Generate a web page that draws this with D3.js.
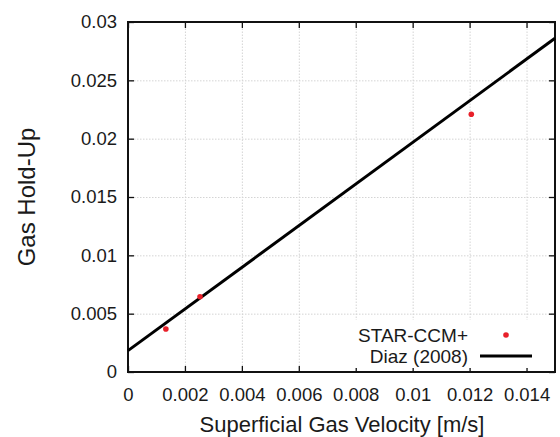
<!DOCTYPE html>
<html lang="en">
<head>
<meta charset="UTF-8">
<title>Gas Hold-Up</title>
<script src="https://cdn.jsdelivr.net/npm/d3@7"></script>
<style>
    body { margin: 0; background: #fff; }
    svg text { font-family: "Liberation Sans", Arial, sans-serif; fill: #1a1a1a; }
    .tick text { font-size: 18.5px; }
    .grid line { stroke: #d4d4d4; stroke-dasharray: 1.5 1.5; }
    .grid path { display: none; }
</style>
</head>
<body>
<svg width="560" height="437"></svg>
<script>
// simulation points (STAR-CCM+)
var simX = [0.00133, 0.00253, 0.01206];
var simY = [0.00369, 0.00645, 0.02209];
// Diaz (2008) correlation, end points of the line
var diazX = [0, 0.015];
var diazY = [0.00183, 0.0286];
var xTicks = [0, 0.002, 0.004, 0.006, 0.008, 0.01, 0.012, 0.014];
var yTicks = [0, 0.005, 0.01, 0.015, 0.02, 0.025, 0.03];
var legendNames = ["STAR-CCM+", "Diaz (2008)"];

var svg = d3.select("svg");
var mL = 128, mT = 22, mR = 555, mB = 372;

var x = d3.scaleLinear().domain([0, 0.015]).range([mL, mR]);
var y = d3.scaleLinear().domain([0, 0.03]).range([mB, mT]);

// grid
svg.append("g").attr("class", "grid")
    .attr("transform", "translate(0," + mB + ")")
    .call(d3.axisBottom(x).tickValues(xTicks).tickSize(-(mB - mT)).tickFormat(""));
svg.append("g").attr("class", "grid")
    .attr("transform", "translate(" + mL + ",0)")
    .call(d3.axisLeft(y).tickValues(yTicks).tickSize(-(mR - mL)).tickFormat(""));

// axes with inward ticks
var fmt = function (d) { return d === 0 ? "0" : String(+d.toFixed(4)); };
svg.append("g").attr("transform", "translate(0," + mB + ")")
    .call(d3.axisBottom(x).tickValues(xTicks).tickSize(-6).tickPadding(16).tickFormat(fmt));
svg.append("g").attr("transform", "translate(" + mL + ",0)")
    .call(d3.axisLeft(y).tickValues(yTicks).tickSize(-6).tickPadding(11).tickFormat(fmt));
svg.append("g").attr("transform", "translate(0," + mT + ")")
    .call(d3.axisTop(x).tickValues(xTicks).tickSize(-6).tickFormat(""));
svg.append("g").attr("transform", "translate(" + mR + ",0)")
    .call(d3.axisRight(y).tickValues(yTicks).tickSize(-6).tickFormat(""));
svg.selectAll(".domain").remove();
svg.selectAll(".tick line").attr("stroke", "#111").attr("stroke-width", 1.3);
svg.selectAll(".grid .tick line").attr("stroke", "#d4d4d4").attr("stroke-width", 1);

// frame
svg.append("rect")
    .attr("x", mL).attr("y", mT)
    .attr("width", mR - mL).attr("height", mB - mT)
    .attr("fill", "none").attr("stroke", "#111").attr("stroke-width", 2);

// Diaz line
var line = d3.line().x(function (d) { return x(d[0]); }).y(function (d) { return y(d[1]); });
svg.append("path")
    .datum(d3.zip(diazX, diazY))
    .attr("d", line)
    .attr("fill", "none").attr("stroke", "#000").attr("stroke-width", 3);

// simulation points
svg.selectAll(".pt")
    .data(d3.zip(simX, simY))
    .enter().append("circle")
    .attr("class", "pt")
    .attr("cx", function (d) { return x(d[0]); })
    .attr("cy", function (d) { return y(d[1]); })
    .attr("r", 2.8)
    .attr("fill", "#e8202a");

// legend
var lg = svg.append("g");
lg.append("rect").attr("x", 345).attr("y", 320).attr("width", 205).attr("height", 48).attr("fill", "#fff");
lg.selectAll("text").data(legendNames).enter().append("text")
    .attr("x", 468).attr("y", function (d, i) { return 342 + i * 21; })
    .attr("text-anchor", "end").style("font-size", "19px")
    .text(function (d) { return d; });
lg.append("circle").attr("cx", 506).attr("cy", 335).attr("r", 2.8).attr("fill", "#e8202a");
lg.append("line").attr("x1", 480).attr("x2", 532).attr("y1", 356).attr("y2", 356)
    .attr("stroke", "#000").attr("stroke-width", 3);

// axis titles
svg.append("text")
    .attr("x", 342).attr("y", 432)
    .attr("text-anchor", "middle").style("font-size", "22px")
    .text("Superficial Gas Velocity [m/s]");
svg.append("text")
    .attr("transform", "translate(35,197) rotate(-90)")
    .attr("text-anchor", "middle").style("font-size", "24px")
    .text("Gas Hold-Up");
</script>
</body>
</html>
